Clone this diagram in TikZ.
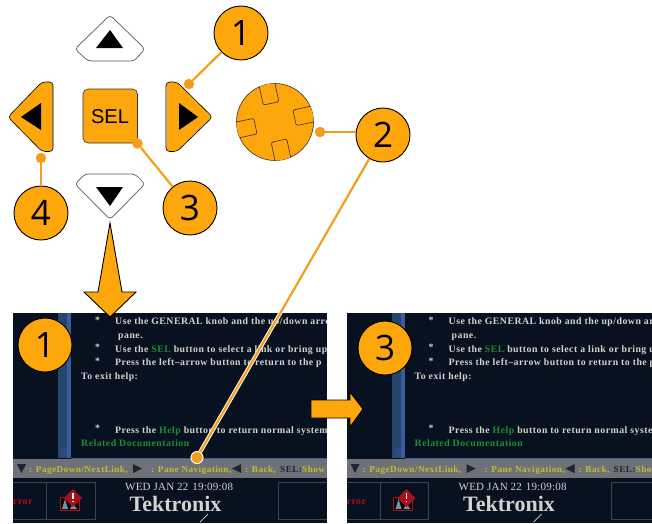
\documentclass[tikz,border=0pt]{standalone}
\usepackage{fontspec}
\setmainfont{Liberation Sans}
\newfontfamily\numfont{Open Sans}
\newfontfamily\scrbold[LetterSpace=5]{Liberation Serif Bold}
\newfontfamily\datefont[LetterSpace=2]{Liberation Serif}
\newfontfamily\logofont{Liberation Serif Bold}
\usetikzlibrary{calc}
\definecolor{org}{HTML}{FDA70D}
\definecolor{lineorg}{HTML}{F59E1E}
\definecolor{navy}{HTML}{08111F}
\definecolor{stripblue}{HTML}{24466E}
\definecolor{brightblue}{HTML}{3A5C9C}
\definecolor{barback}{HTML}{6E7278}
\definecolor{txtgrey}{HTML}{D2D2CE}
\definecolor{scrgreen}{HTML}{1B8E35}
\definecolor{scryellow}{HTML}{BFBE2E}
\definecolor{framegrey}{HTML}{3C4450}
\definecolor{scrred}{HTML}{A8101C}
\definecolor{bardark}{HTML}{1E2430}
\tikzset{
  callout/.style={circle,draw=black,line width=0.9pt,fill=org,minimum size=54pt,inner sep=0pt,font=\numfont\fontsize{35}{35}\selectfont},
  dotnode/.style={circle,fill=lineorg,minimum size=10.5pt,inner sep=0pt},
  leader/.style={draw=lineorg,line width=2.2pt},
  halo/.style={draw=white,line width=4pt},
  navbtn/.style={draw=black,line width=0.6pt,fill=org,rounded corners=3.5pt},
  navbtnw/.style={draw=black!65,line width=0.7pt,fill=white,rounded corners=3.5pt},
  glyph/.style={fill=black},
  bigarrow/.style={draw=black,line width=0.9pt,fill=org,line join=miter},
  notch/.style={draw=black!80,line width=0.6pt,fill=org,rounded corners=2pt},
  scrtext/.style={anchor=base west,inner sep=0pt,text=txtgrey,font=\scrbold\fontsize{9.8}{9.8}\selectfont},
  scrgrn/.style={scrtext,text=scrgreen},
  baryel/.style={scrtext,text=scryellow,font=\scrbold\fontsize{9.2}{9.2}\selectfont},
  frameline/.style={draw=framegrey,line width=0.7pt},
  bartri/.style={fill=bardark}
}
\newcommand{\screenpanel}[2]{%
\begin{scope}[xshift=#1]
\begin{scope}
\clip (13,313) rectangle (327,523);
\fill[navy] (13,313) rectangle (327,523);
\fill[stripblue] (58,313) rectangle (67,458);
\fill[brightblue] (67,313) rectangle (71,458);
\fill[brightblue] (71,458) rectangle (327,460);
\fill[brightblue!80!black] (60,448) rectangle (67,457);
\fill[barback] (13,459) rectangle (327,478);
\node[scrtext] (#2a0) at (95,323) {*};
\node[scrtext] (#2a) at (115,324) {Use the GENERAL knob and the up/down arrow};
\node[scrtext] (#2b) at (118,338) {pane.};
\node[scrtext] (#2c0) at (95,350) {*};
\node[scrtext] (#2c) at (115,352) {Use the \textcolor{scrgreen}{SEL} button to select a link or bring up};
\node[scrtext] (#2d0) at (95,364) {*};
\node[scrtext] (#2d) at (115,365) {Press the left–arrow button to return to the p};
\node[scrtext] (#2e) at (81,379) {To exit help:};
\node[scrtext] (#2f0) at (95,431) {*};
\node[scrtext] (#2f) at (115,433) {Press the \textcolor{scrgreen}{Help} button to return normal system};
\node[scrgrn] (#2g) at (81,446) {Related Documentation};
\fill[bartri] (17,464) -- (26,464) -- (21.5,473) -- cycle;
\node[baryel] (#2h) at (29,472) {: PageDown/NextLink,};
\fill[bartri] (133,464) -- (142,468.5) -- (133,473) -- cycle;
\node[baryel] (#2i) at (151,472) {: Pane Navigation,};
\fill[bartri] (241,464) -- (232,468.5) -- (241,473) -- cycle;
\node[baryel] (#2j) at (245,472) {: Back,};
\node[baryel,text=bardark] (#2k) at (280,472) {SEL:};
\node[baryel] (#2l) at (302,472) {Show};
\draw[frameline] (13,482) -- (95,482) -- (95,519) -- (13,519) (46.5,482) -- (46.5,519);
\draw[frameline] (340,482) -- (278,482) -- (278,519) -- (340,519);
\node[scrtext,text=scrred] (#2m) at (13,504) {rror};
\fill[black!60!navy,draw=scrred,line width=0.8pt] (60,497) rectangle (79,510);
\fill[stripblue!60!white] (62,509) -- (65,499) -- (68,509) -- cycle;
\fill[stripblue!60!white] (70,509) -- (73,504) -- (77,509) -- cycle;
\fill[scrred] (73,489) -- (82,498) -- (73,507) -- (64,498) -- cycle;
\fill[white] (72.2,493) rectangle (73.8,499);
\fill[white] (72.2,500.5) rectangle (73.8,502);
\node[anchor=base west,inner sep=0pt,text=txtgrey,font=\datefont\fontsize{11}{11}\selectfont] (#2n) at (125,490) {WED JAN 22\hspace{4pt}19:09:08};
\node[anchor=base,inner sep=0pt,text=txtgrey,font=\logofont\fontsize{22}{22}\selectfont] (#2o) at (175.5,511) {Tektronix};
\draw[txtgrey,line width=0.7pt] (200,522) -- (208,514);
\end{scope}
\end{scope}}
\begin{document}
\begin{tikzpicture}[x=1pt,y=-1pt]
\useasboundingbox (0,0) rectangle (652,523);
\fill[white] (0,0) rectangle (652,523);
% screens
\screenpanel{0pt}{p}
\begin{scope}
\clip (0,0) rectangle (652,523);
\screenpanel{333.5pt}{q}
\end{scope}
% buttons
\draw[navbtnw] (88,61) -- (75,49) -- (110,15) -- (145,49) -- (134,61) -- cycle;
\fill[glyph] (110,30) -- (123,48) -- (96,48) -- cycle;
\draw[navbtnw] (85,174) -- (135,174) -- (145,184) -- (110,219.5) -- (75,184) -- cycle;
\fill[glyph] (96,187) -- (123,187) -- (110,206) -- cycle;
\draw[navbtn] (166,82) -- (177,82) -- (212.5,117) -- (177,151.5) -- (166,151.5) -- cycle;
\draw[black!40,line width=0.8pt] (166,87) -- (166,146);
\fill[glyph] (179,103) -- (198,117) -- (179,130) -- cycle;
\draw[navbtn] (53,82) -- (42,82) -- (8,117) -- (42,151.5) -- (53,151.5) -- cycle;
\draw[black!40,line width=0.8pt] (53,87) -- (53,146);
\fill[glyph] (41,103) -- (21,117) -- (41,130) -- cycle;
\draw[black!80,line width=0.6pt,fill=org,rounded corners=5pt] (83,89) rectangle (137.5,143);
\node[inner sep=0pt,font=\fontsize{20}{20}\selectfont] (sel) at (110,117) {SEL};
% knob
\node[circle,draw=black!80,line width=0.6pt,fill=org,minimum size=77pt,inner sep=0pt] (knob) at (275,122) {};
\begin{scope}
\clip (275,122) circle (38.5);
\draw[notch,rotate around={12:(275,122)}] (267,78) rectangle (283,103);
\draw[notch,rotate around={12:(275,122)}] (267,141) rectangle (283,166);
\draw[notch,rotate around={12:(275,122)}] (231,114) rectangle (255,130);
\draw[notch,rotate around={12:(275,122)}] (295,114) rectangle (319,130);
\end{scope}
% dots and callouts
\node[dotnode] (d1) at (189,84) {};
\node[dotnode] (d2) at (320,132) {};
\node[dotnode] (d3) at (137.5,143.5) {};
\node[dotnode] (d4) at (41,158) {};
\node[circle,fill=lineorg,draw=white,line width=0.8pt,minimum size=12pt,inner sep=0pt] (d5) at (197,457.5) {};
\node[callout] (c1) at (241,33) {1};
\node[callout] (c2) at (383,135) {2};
\node[callout] (c3) at (190,208) {3};
\node[callout] (c4) at (41,213) {4};
\node[callout] (s1) at (45,345) {1};
\node[callout] (s3) at (385,348) {3};
\draw[leader] (c1) -- (d1);
\draw[leader] (c2.west |- d2) -- (d2);
\draw[leader] (c3) -- (d3);
\draw[leader] (c4) -- (d4);
\draw[halo] ($(c2)!0.5!(d5)$) -- (d5);
\draw[leader] (c2) -- (d5);
\node[circle,fill=lineorg,draw=white,line width=0.8pt,minimum size=12pt,inner sep=0pt] (d5b) at (d5) {};
% big arrows
\draw[bigarrow] (110,223) -- (122,292) -- (136,292) -- (110,317) -- (84,292) -- (98,292) -- cycle;
\draw[bigarrow] (311,400) -- (350,400) -- (350,392) -- (363,409) -- (350,427) -- (350,418) -- (311,418) -- cycle;
\end{tikzpicture}
\end{document}
